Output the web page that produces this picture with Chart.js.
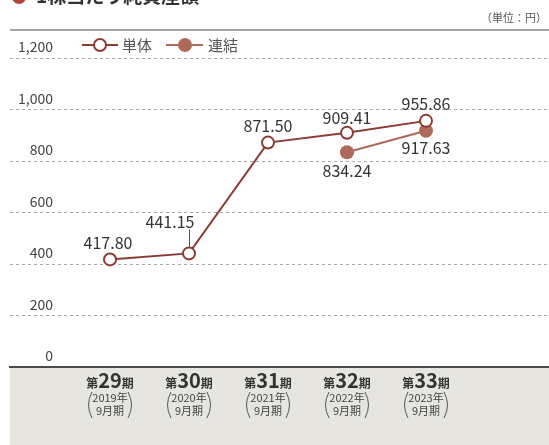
<!DOCTYPE html>
<html><head><meta charset="utf-8">
<script src="https://cdn.jsdelivr.net/npm/chart.js@4/dist/chart.umd.min.js"></script>
<style>
html,body{margin:0;padding:0;background:#fff;overflow:hidden}
#wrap{position:relative;width:549px;height:445px}
</style></head><body>
<div id="wrap"><canvas id="c" width="549" height="445"></canvas></div>
<script>
const periodNums = ['29', '30', '31', '32', '33'];
const fiscalYears = ['2019年', '2020年', '2021年', '2022年', '2023年'];
const fiscalMonths = ['9月期', '9月期', '9月期', '9月期', '9月期'];
const tantai = [417.80, 441.15, 871.50, 909.41, 955.86];
const renketsu = [null, null, null, 834.24, 917.63];
const tantaiLabels = ['417.80', '441.15', '871.50', '909.41', '955.86'];
const renketsuLabels = [null, null, null, '834.24', '917.63'];
const seriesNames = ['単体', '連結'];
const titleText = '1株当たり純資産額';
const unitText = '（単位：円）';

const FONT = '"Noto Sans CJK JP", "Noto Sans", sans-serif';
const C1 = '#8e3a34', C2 = '#b06a5c';

const toPts = arr => arr.map((v, i) => v == null ? null : { x: i + 1, y: v }).filter(p => p);

const deco = {
  id: 'deco',
  beforeDraw(chart) {
    const ctx = chart.ctx, a = chart.chartArea;
    ctx.save();
    ctx.fillStyle = '#e6e5e0';
    ctx.fillRect(a.left, a.bottom, a.right - a.left, chart.height - a.bottom);
    ctx.strokeStyle = '#a3a3a3'; ctx.lineWidth = 2;
    ctx.beginPath(); ctx.moveTo(a.left, 30); ctx.lineTo(a.right, 30); ctx.stroke();
    // title (cut off at top)
    ctx.fillStyle = '#b5443a';
    ctx.beginPath(); ctx.arc(19, -3, 7, 0, Math.PI * 2); ctx.fill();
    ctx.fillStyle = '#333'; ctx.font = 'bold 19px ' + FONT; ctx.textBaseline = 'alphabetic'; ctx.textAlign = 'left';
    ctx.fillText(titleText, 36, 3);
    // unit
    ctx.fillStyle = '#555'; ctx.font = '11px ' + FONT; ctx.textAlign = 'right'; ctx.textBaseline = 'middle';
    ctx.fillText(unitText, 547, 18);
    // legend
    const ly = 45;
    ctx.lineWidth = 2;
    ctx.strokeStyle = C1; ctx.beginPath(); ctx.moveTo(82, ly); ctx.lineTo(118, ly); ctx.stroke();
    ctx.fillStyle = '#fff'; ctx.beginPath(); ctx.arc(100, ly, 6, 0, Math.PI * 2); ctx.fill(); ctx.stroke();
    ctx.strokeStyle = C2; ctx.beginPath(); ctx.moveTo(166, ly); ctx.lineTo(203, ly); ctx.stroke();
    ctx.fillStyle = C2; ctx.beginPath(); ctx.arc(185, ly, 7, 0, Math.PI * 2); ctx.fill();
    ctx.fillStyle = '#555'; ctx.font = '15px ' + FONT; ctx.textAlign = 'left'; ctx.textBaseline = 'middle';
    ctx.fillText(seriesNames[0], 122, ly);
    ctx.fillText(seriesNames[1], 208, ly);
    ctx.restore();
  },
  afterDatasetsDraw(chart) {
    const ctx = chart.ctx;
    ctx.save();
    ctx.fillStyle = '#333'; ctx.font = '16px ' + FONT; ctx.textAlign = 'center'; ctx.textBaseline = 'middle';
    const m0 = chart.getDatasetMeta(0).data;
    const off0 = [[-2, -16], [-19, -31], [0, -17], [0, -15], [0, -17]];
    m0.forEach((p, i) => {
      ctx.fillText(tantaiLabels[i], p.x + off0[i][0], p.y + off0[i][1]);
    });
    const p1 = m0[1];
    ctx.strokeStyle = '#555'; ctx.lineWidth = 1;
    ctx.beginPath(); ctx.moveTo(p1.x + 0.5, p1.y - 6); ctx.lineTo(p1.x + 0.5, p1.y - 24); ctx.stroke();
    const m1 = chart.getDatasetMeta(1).data;
    const lbl1 = renketsuLabels.filter(l => l);
    const off1 = [[0, 19], [0, 17]];
    m1.forEach((p, i) => {
      ctx.fillText(lbl1[i], p.x + off1[i][0], p.y + off1[i][1]);
    });
    const xs = chart.scales.x;
    periodNums.forEach((n, i) => {
      const px = xs.getPixelForValue(i + 1);
      ctx.textBaseline = 'alphabetic'; ctx.textAlign = 'left'; ctx.fillStyle = '#333';
      const fs = 'bold 12px ' + FONT, fb = 'bold 20px ' + FONT;
      ctx.font = fs; const w1 = ctx.measureText('第').width, w3 = ctx.measureText('期').width;
      ctx.font = fb; const w2 = ctx.measureText(n).width;
      let x = px - (w1 + w2 + w3) / 2;
      ctx.font = fs; ctx.fillText('第', x, 388); x += w1;
      ctx.font = fb; ctx.fillText(n, x, 388); x += w2;
      ctx.font = fs; ctx.fillText('期', x, 388);
      ctx.fillStyle = '#444'; ctx.font = '11px ' + FONT; ctx.textAlign = 'center'; ctx.textBaseline = 'middle';
      ctx.fillText(fiscalYears[i], px, 398);
      ctx.fillText(fiscalMonths[i], px, 411);
      ctx.strokeStyle = '#555'; ctx.lineWidth = 1;
      ctx.beginPath(); ctx.moveTo(px - 18, 392); ctx.quadraticCurveTo(px - 25, 405, px - 18, 418); ctx.stroke();
      ctx.beginPath(); ctx.moveTo(px + 18, 392); ctx.quadraticCurveTo(px + 25, 405, px + 18, 418); ctx.stroke();
    });
    ctx.restore();
  }
};

Chart.defaults.font.family = FONT;
new Chart(document.getElementById('c'), {
  type: 'line',
  data: {
    datasets: [
      { label: seriesNames[0], data: toPts(tantai), borderColor: C1, borderWidth: 2, pointRadius: 6, pointBorderWidth: 2,
        pointBackgroundColor: '#fff', pointBorderColor: C1, tension: 0 },
      { label: seriesNames[1], data: toPts(renketsu), borderColor: C2, borderWidth: 2, pointRadius: 7, pointBorderWidth: 0,
        pointBackgroundColor: C2, pointBorderColor: C2, tension: 0 }
    ]
  },
  options: {
    responsive: false, animation: false, devicePixelRatio: 1,
    layout: { autoPadding: false, padding: { top: 58, left: 10, right: 0, bottom: 78 } },
    plugins: { legend: { display: false }, tooltip: { enabled: false } },
    scales: {
      x: { type: 'linear', min: 1 - 100 / 79, max: 5 + 123 / 79,
        ticks: { display: false, callback: () => '' }, grid: { display: false, drawTicks: false },
        border: { display: true, color: '#4a4a4a', width: 2 },
        afterFit: s => { s.height = 0; s.paddingLeft = 0; s.paddingRight = 0; } },
      y: { min: 0, max: 1200,
        ticks: { stepSize: 200, mirror: true, crossAlign: 'far', padding: 8, labelOffset: -11,
          color: '#444', font: { size: 14 },
          callback: v => v.toLocaleString('en-US') },
        grid: { color: '#aaa', lineWidth: 1, drawTicks: false },
        border: { display: false, dash: [3, 3] },
        afterFit: s => { s.width = 0; s.paddingTop = 0; s.paddingBottom = 0; } }
    }
  },
  plugins: [deco]
});
</script>
</body></html>
